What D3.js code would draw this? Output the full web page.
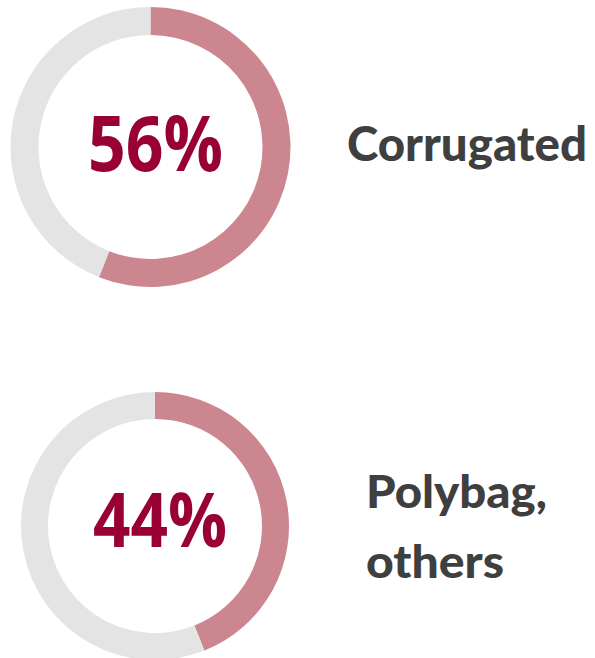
<!DOCTYPE html>
<html>
<head>
<meta charset="utf-8">
<script src="https://cdn.jsdelivr.net/npm/d3@7"></script>
<style>
  html, body { margin: 0; padding: 0; background: #ffffff; }
  svg { display: block; }
</style>
</head>
<body>
<svg id="chart" width="595" height="658"></svg>
<script>
// Share of packaging type
const categories = ["Corrugated", "Polybag, others"];
const shares = [56, 44];
const labelLines = [["Corrugated"], ["Polybag,", "others"]];

const accent = "#cc8690";
const track = "#e4e4e4";
const valueColor = "#990033";
const labelColor = "#3f3f3f";
const valueFont = "'Open Sans', Lato, sans-serif";
const labelFont = "Lato, 'Open Sans', sans-serif";

// Layout of each donut panel
const panels = [
  { cx: 150.5, cy: 147, outer: 140, inner: 112,
    value: { x: 88, baseline: 171, width: 135, size: 77 },
    label: { x: 347, baselines: [161], widths: [240], size: 47 } },
  { cx: 155, cy: 526, outer: 134, inner: 107,
    value: { x: 93, baseline: 547, width: 134, size: 75 },
    label: { x: 366, baselines: [508, 578], widths: [181, 138], size: 46 } }
];

const svg = d3.select("#chart");
const pie = d3.pie().sort(null).value(d => d);

panels.forEach((p, i) => {
  const share = shares[i];
  const g = svg.append("g").attr("transform", `translate(${p.cx},${p.cy})`);
  const arc = d3.arc().innerRadius(p.inner).outerRadius(p.outer);
  const slices = pie([share, 100 - share]);

  g.selectAll("path")
    .data(slices)
    .join("path")
    .attr("d", arc)
    .attr("fill", (d, j) => j === 0 ? accent : track);

  // Big percentage in the middle
  svg.append("text")
    .attr("x", p.value.x)
    .attr("y", p.value.baseline)
    .attr("font-family", valueFont)
    .attr("font-weight", 700)
    .attr("font-size", p.value.size)
    .attr("fill", valueColor)
    .attr("textLength", p.value.width)
    .attr("lengthAdjust", "spacingAndGlyphs")
    .text(d3.format("d")(share) + "%");

  // Category label to the right
  labelLines[i].forEach((line, k) => {
    svg.append("text")
      .attr("x", p.label.x)
      .attr("y", p.label.baselines[k])
      .attr("font-family", labelFont)
      .attr("font-weight", 900)
      .attr("font-size", p.label.size)
      .attr("fill", labelColor)
      .attr("textLength", p.label.widths[k])
      .attr("lengthAdjust", "spacingAndGlyphs")
      .text(line);
  });
});
</script>
</body>
</html>
